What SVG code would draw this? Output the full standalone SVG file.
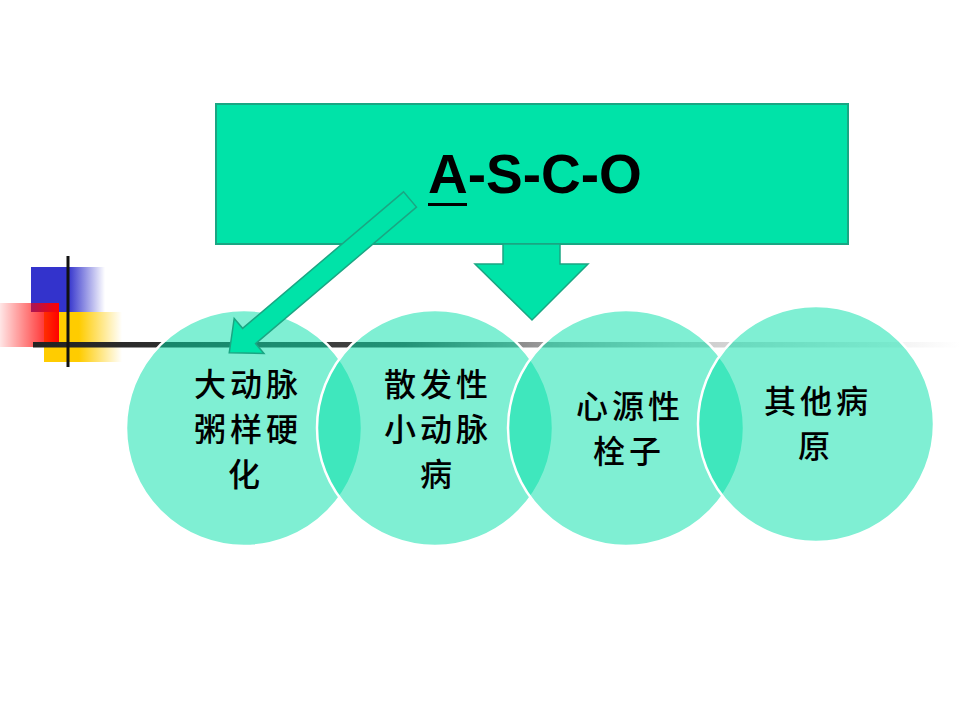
<svg xmlns="http://www.w3.org/2000/svg" width="960" height="720" viewBox="0 0 960 720">
<defs>
<linearGradient id="gBlue" x1="31" y1="0" x2="105" y2="0" gradientUnits="userSpaceOnUse">
<stop offset="0" stop-color="#3333CC"/><stop offset="0.5" stop-color="#3333CC"/><stop offset="1" stop-color="#3333CC" stop-opacity="0"/>
</linearGradient>
<linearGradient id="gYellow" x1="44" y1="0" x2="122" y2="0" gradientUnits="userSpaceOnUse">
<stop offset="0" stop-color="#FFCC00"/><stop offset="0.45" stop-color="#FFCC00"/><stop offset="1" stop-color="#FFCC00" stop-opacity="0"/>
</linearGradient>
<linearGradient id="gRed" x1="0" y1="0" x2="59" y2="0" gradientUnits="userSpaceOnUse">
<stop offset="0" stop-color="#FF0000" stop-opacity="0.1"/><stop offset="1" stop-color="#FF0000"/>
</linearGradient>
<linearGradient id="gBar" x1="33" y1="0" x2="960" y2="0" gradientUnits="userSpaceOnUse">
<stop offset="0" stop-color="#222"/><stop offset="0.4" stop-color="#444"/><stop offset="0.55" stop-color="#9A9A9A"/><stop offset="0.7" stop-color="#CACACA"/><stop offset="1" stop-color="#FFFFFF"/>
</linearGradient>
<style>
.box{fill:#00E3A8;stroke:#1AA683;stroke-width:2}
.arr{fill:#00E3A8;stroke:#1AA683;stroke-width:1.5}
.circ{fill:#00E0A8;fill-opacity:0.5;stroke:#FFFFFF;stroke-width:2.5}
.cjk{font-family:"Noto Sans CJK SC","Noto Sans CJK TC",sans-serif;font-size:32px;font-weight:500;fill:#000;text-anchor:middle;letter-spacing:4px}
.title{font-family:"Liberation Sans",Arial,sans-serif;font-size:55px;font-weight:bold;fill:#000}
</style>
</defs>
<rect width="960" height="720" fill="#FFFFFF"/>
<g id="decoration">
<rect x="31" y="267" width="74" height="45" fill="url(#gBlue)"/>
<rect x="44" y="312" width="78" height="50" fill="url(#gYellow)"/>
<rect x="0" y="303" width="59" height="44" fill="url(#gRed)"/>
<rect x="33" y="342" width="927" height="5.5" fill="url(#gBar)"/>
<rect x="66.5" y="256" width="3" height="111" fill="#111"/>
</g>
<g id="title-box">
<rect class="box" x="216" y="104" width="632" height="140"/>
<text class="title" x="428" y="193">A-S-C-O</text>
<rect x="428" y="203" width="39" height="3" fill="#000"/>
</g>
<g id="circle-1">
<circle class="circ" cx="244" cy="428" r="118"/>
<text class="cjk"><tspan x="248" y="396">大动脉</tspan><tspan x="248" y="441">粥样硬</tspan><tspan x="246" y="486">化</tspan></text>
</g>
<g id="circle-2">
<circle class="circ" cx="435" cy="428" r="118"/>
<text class="cjk"><tspan x="438" y="396">散发性</tspan><tspan x="438" y="441">小动脉</tspan><tspan x="438" y="486">病</tspan></text>
</g>
<g id="circle-3">
<circle class="circ" cx="626" cy="428" r="118"/>
<text class="cjk"><tspan x="630" y="418">心源性</tspan><tspan x="629" y="463">栓子</tspan></text>
</g>
<g id="circle-4">
<circle class="circ" cx="816" cy="424" r="118"/>
<text class="cjk"><tspan x="818" y="413">其他病</tspan><tspan x="816" y="458">原</tspan></text>
</g>
<g id="connectors">
<polygon class="arr" points="503,244 560,244 560,264 588,264 532,320 475,264 503,264"/>
<polygon class="arr" transform="translate(410,199.5) rotate(139.7)" points="0,-10 211,-10 211,-23 237,0 211,23 211,10 0,10"/>
</g>
</svg>
